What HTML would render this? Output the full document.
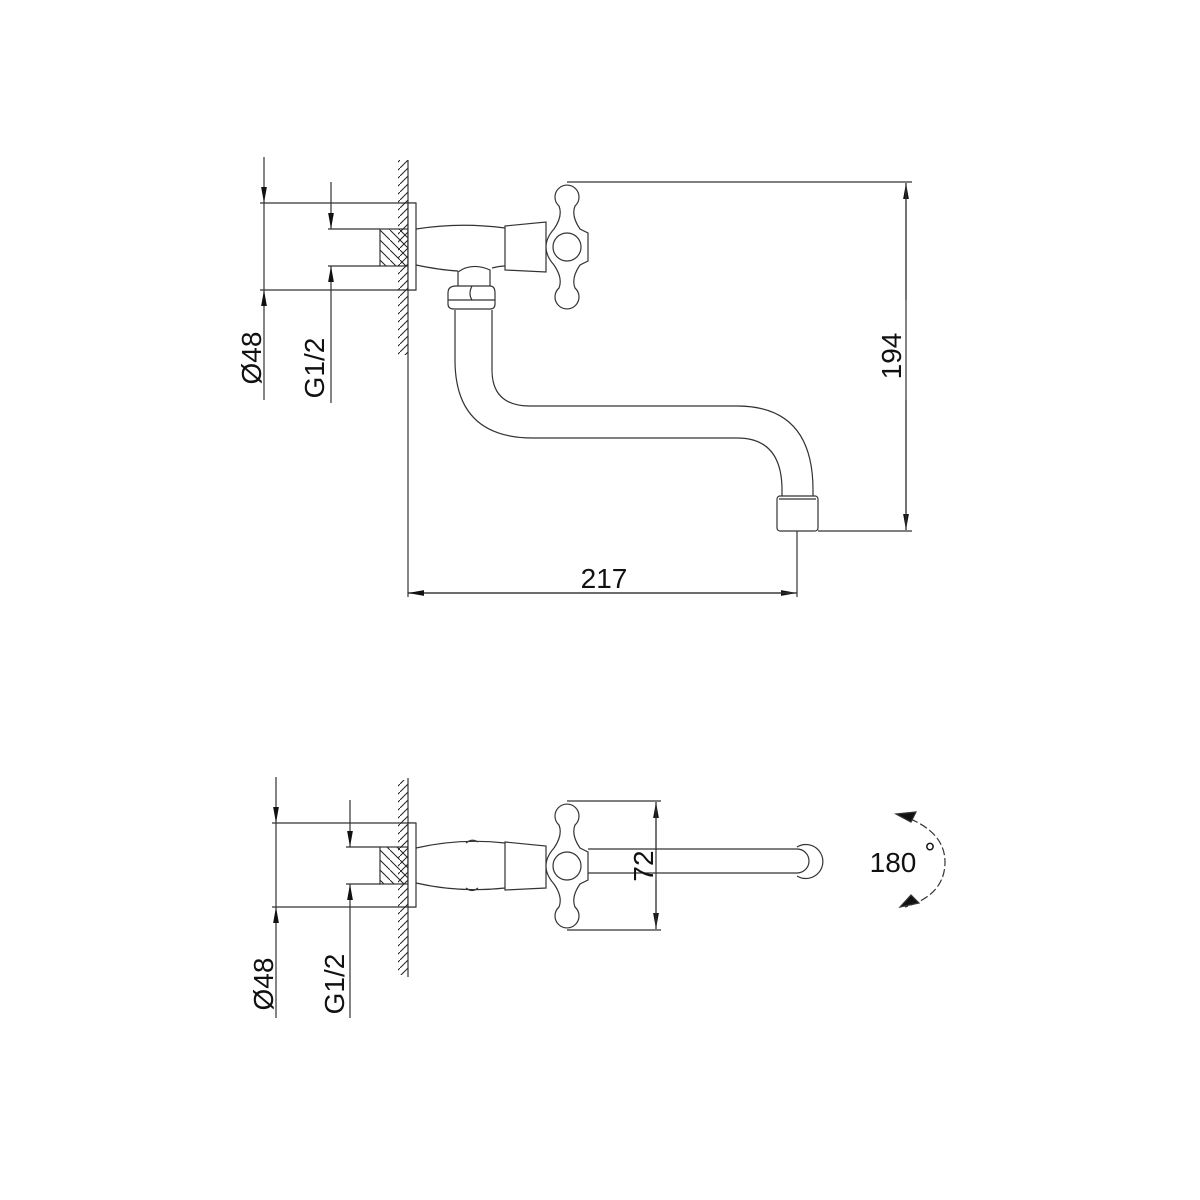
<!DOCTYPE html>
<html><head><meta charset="utf-8"><style>html,body{margin:0;padding:0;background:#fff}svg{display:block}</style></head>
<body>
<svg width="1200" height="1200" viewBox="0 0 1200 1200" xmlns="http://www.w3.org/2000/svg">
<defs>
<pattern id="wh" width="8" height="8" patternUnits="userSpaceOnUse"><path d="M-2,10 L10,-2" stroke="#222" stroke-width="1"/></pattern>
<pattern id="bh" width="10" height="10" patternUnits="userSpaceOnUse"><path d="M-2,-2 L12,12" stroke="#222" stroke-width="1"/></pattern>
<marker id="a" viewBox="0 0 10 10" refX="10" refY="5" markerWidth="16" markerHeight="16" markerUnits="userSpaceOnUse" orient="auto"><path d="M0,3.2 L10,5 L0,6.8 Z" fill="#111"/></marker>
<g id="cross">
<path d="M559,206 A12 12 0 1 1 575,206 Q571,216 580,229 L588,233 L588,261 L580,265 Q571,278 575,288 A12 12 0 1 1 559,288 Q563,278 554,265 Q546,256 546,247 Q546,238 554,229 Q563,216 559,206 Z" fill="#fff" stroke="#333" stroke-width="1.2"/>
<circle cx="567" cy="247" r="14" fill="none" stroke="#333" stroke-width="1.2"/>
</g>
</defs>
<g fill="none" stroke="#333" stroke-width="1.2">
<!-- TOP VIEW -->
<line x1="264" y1="157" x2="264" y2="203" marker-end="url(#a)"/>
<line x1="264" y1="400" x2="264" y2="290" marker-end="url(#a)"/>
<line x1="264" y1="203" x2="264" y2="290"/>
<line x1="260" y1="203" x2="416" y2="203"/>
<line x1="260" y1="290" x2="416" y2="290"/>
<line x1="331" y1="182" x2="331" y2="229" marker-end="url(#a)"/>
<line x1="331" y1="403" x2="331" y2="266" marker-end="url(#a)"/>
<line x1="328" y1="229" x2="380" y2="229"/>
<line x1="328" y1="266" x2="380" y2="266"/>
<rect x="380" y="229" width="28" height="37" fill="url(#bh)"/>
<rect x="398" y="160" width="10" height="195" fill="url(#wh)" stroke="none"/>
<line x1="408" y1="160" x2="408" y2="597"/>
<rect x="408" y="203" width="8" height="87" fill="#fff"/>
<path d="M416,229 Q460,222 505,228 M416,265 Q440,270 458,271 M492,268 Q500,266 505,266"/>
<path d="M458,299 L458,272 Q472,262 490,270 L490,299"/>
<path d="M448,293 Q448,286 456,286 L490,286 Q495,286 495,293 L495,304 Q495,309 490,309 L454,309 Q448,309 448,304 Z" fill="#fff"/>
<path d="M448,300 L495,300 M472,286 Q468,294 472,300"/>
<path d="M505,226 L505,270 L546,272 L546,222 Z" fill="#fff"/>
<use href="#cross"/>
<!-- spout -->
<path d="M455,310 L455,360 Q455,438 533,438 L737,438 Q782,438 782,490 L782,497"/>
<path d="M492,310 L492,370 Q492,406 530,406 L737,406 Q813,406 813,490 L813,497"/>
<rect x="777" y="496" width="41" height="35" rx="3" fill="#fff"/>
<line x1="779" y1="499" x2="816" y2="499"/>
<!-- 217 -->
<line x1="797" y1="531" x2="797" y2="597"/>
<line x1="408" y1="593" x2="797" y2="593" marker-end="url(#a)"/>
<line x1="797" y1="593" x2="408" y2="593" marker-end="url(#a)"/>
<!-- 194 -->
<line x1="567" y1="182" x2="912" y2="182"/>
<line x1="818" y1="531" x2="912" y2="531"/>
<line x1="906" y1="300" x2="906" y2="183" marker-end="url(#a)"/>
<line x1="906" y1="400" x2="906" y2="530" marker-end="url(#a)"/>
<line x1="906" y1="183" x2="906" y2="530"/>

<!-- BOTTOM VIEW -->
<line x1="276" y1="777" x2="276" y2="823" marker-end="url(#a)"/>
<line x1="276" y1="1018" x2="276" y2="907" marker-end="url(#a)"/>
<line x1="276" y1="823" x2="276" y2="907"/>
<line x1="272" y1="823" x2="416" y2="823"/>
<line x1="272" y1="907" x2="416" y2="907"/>
<line x1="350" y1="800" x2="350" y2="847" marker-end="url(#a)"/>
<line x1="350" y1="1018" x2="350" y2="884" marker-end="url(#a)"/>
<line x1="346" y1="847" x2="380" y2="847"/>
<line x1="346" y1="884" x2="380" y2="884"/>
<rect x="380" y="847" width="28" height="37" fill="url(#bh)"/>
<rect x="398" y="780" width="10" height="195" fill="url(#wh)" stroke="none"/>
<line x1="408" y1="778" x2="408" y2="977"/>
<rect x="408" y="823" width="8" height="84" fill="#fff"/>
<path d="M416,848 Q460,838 505,843 M416,883 Q460,893 505,888"/>
<path d="M466,843 Q472,838 478,842 M466,888 Q472,893 478,888"/>
<path d="M505,842 L505,890 L546,888 L546,846 Z" fill="#fff"/>
<use href="#cross" transform="translate(0,619)"/>
<path d="M588,849 L797,849 A12 12 0 0 1 797,873 L588,873"/>
<path d="M797,847 A17 17 0 1 1 797,876"/>
<!-- 72 -->
<line x1="567" y1="801" x2="661" y2="801"/>
<line x1="567" y1="930" x2="661" y2="930"/>
<line x1="656" y1="850" x2="656" y2="802" marker-end="url(#a)"/>
<line x1="656" y1="880" x2="656" y2="929" marker-end="url(#a)"/>
<line x1="656" y1="802" x2="656" y2="929"/>
<!-- 180 arc -->
<path d="M900,815 Q945,830 945,862 Q945,895 905,907" stroke-dasharray="8,3"/>
<path d="M896,814 L916,812 L911,822 Z M900,907 L919,903 L911,895 Z" fill="#111"/>
</g>
<g font-family="Liberation Sans, sans-serif" fill="#111" font-size="28">
<text transform="translate(261,358) rotate(-90)" text-anchor="middle">Ø48</text>
<text transform="translate(324,368) rotate(-90)" text-anchor="middle">G1/2</text>
<text x="604" y="588" text-anchor="middle">217</text>
<text transform="translate(901,356) rotate(-90)" text-anchor="middle">194</text>
<text transform="translate(273,984) rotate(-90)" text-anchor="middle">Ø48</text>
<text transform="translate(344,984) rotate(-90)" text-anchor="middle">G1/2</text>
<text transform="translate(653,866) rotate(-90)" text-anchor="middle">72</text>
<text x="893" y="872" text-anchor="middle">180</text>
<text x="930" y="862" text-anchor="middle">°</text>
</g>
</svg>
</body></html>
